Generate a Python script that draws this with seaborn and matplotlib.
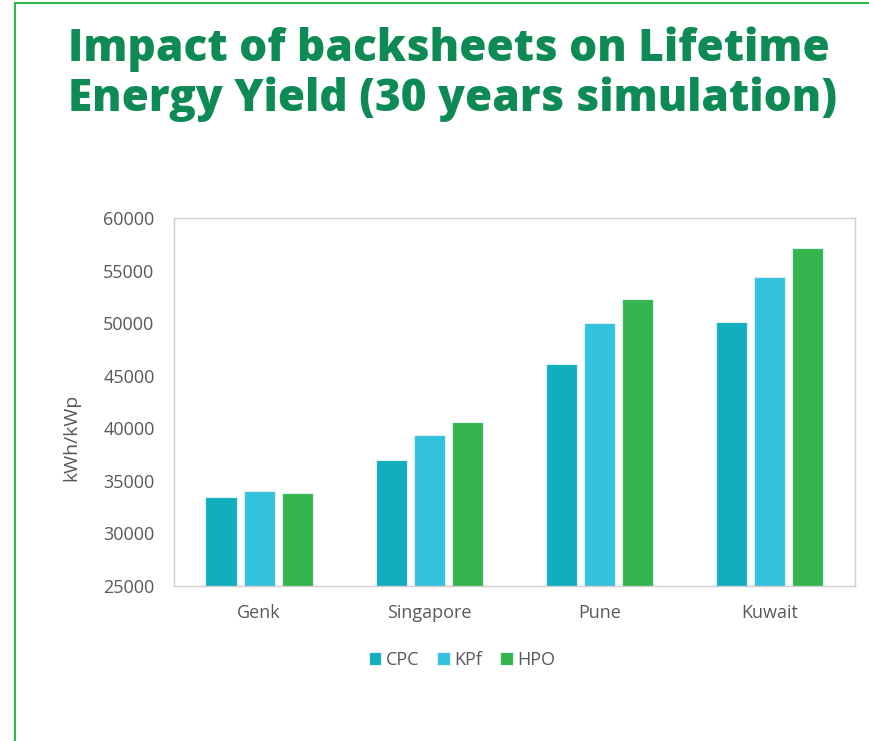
import pandas as pd
import matplotlib.pyplot as plt
import seaborn as sns
from matplotlib.patches import Rectangle

# chart data
locations = ['Genk', 'Singapore', 'Pune', 'Kuwait']
backsheets = ['CPC', 'KPf', 'HPO']
cpc = [33500, 37000, 46100, 50100]
kpf = [34000, 39400, 50000, 54400]
hpo = [33800, 40600, 52300, 57100]
colors = ['#12AEBF', '#33C2DD', '#35B54E']
yticks = [25000, 30000, 35000, 40000, 45000, 50000, 55000, 60000]

df = pd.DataFrame({'Location': locations, 'CPC': cpc, 'KPf': kpf, 'HPO': hpo})
df = df.melt(id_vars='Location', var_name='Backsheet', value_name='Yield')

sns.set_style('white')
plt.rcParams['font.family'] = ['Open Sans', 'DejaVu Sans']

fig = plt.figure(figsize=(8.69, 7.41), dpi=100)
ax = fig.add_axes([0.2002, 0.2092, 0.7837, 0.4966])

sns.barplot(data=df, x='Location', y='Yield', hue='Backsheet', hue_order=backsheets,
            palette=colors, saturation=1, width=0.67, gap=0.18,
            edgecolor='#DDF3F5', linewidth=0.8, ax=ax, legend=True)

ax.set_ylim(25000, 60000)
ax.set_yticks(yticks)
ax.set_xlabel('')
ax.set_ylabel('kWh/kWp', fontsize=14, color='#595959')
ax.yaxis.set_label_coords(-0.138, 0.405)
ax.tick_params(axis='y', direction='in', length=5, color='#D0D0D0', labelsize=13,
               labelcolor='#595959', pad=14)
ax.tick_params(axis='x', length=0, labelsize=13, labelcolor='#595959', pad=13)
for s in ax.spines.values():
    s.set_color('#D0D0D0')
    s.set_linewidth(1)

ax.get_legend().remove()
handles, labels = ax.get_legend_handles_labels()
fig.legend(handles, labels, loc='center', bbox_to_anchor=(462 / 869, 1 - 660 / 741),
           ncol=3, frameon=False, fontsize=13, labelcolor='#595959',
           handlelength=0.7, handleheight=0.7, handletextpad=0.25, columnspacing=1.0)

fig.text(68 / 869, 1 - 27 / 741, 'Impact of backsheets on Lifetime\nEnergy Yield (30 years simulation)',
         ha='left', va='top', fontsize=31.8, fontweight=800, family='Open Sans',
         color='#0E8A55', linespacing=1.12)

# green frame around the slide
fig.patches.append(Rectangle((15 / 869, -0.01), 1.0, 1 - 3 / 741 + 0.01,
                             transform=fig.transFigure, fill=False,
                             edgecolor='#2DB84A', linewidth=1.5))

fig.savefig('out.png', dpi=100)
